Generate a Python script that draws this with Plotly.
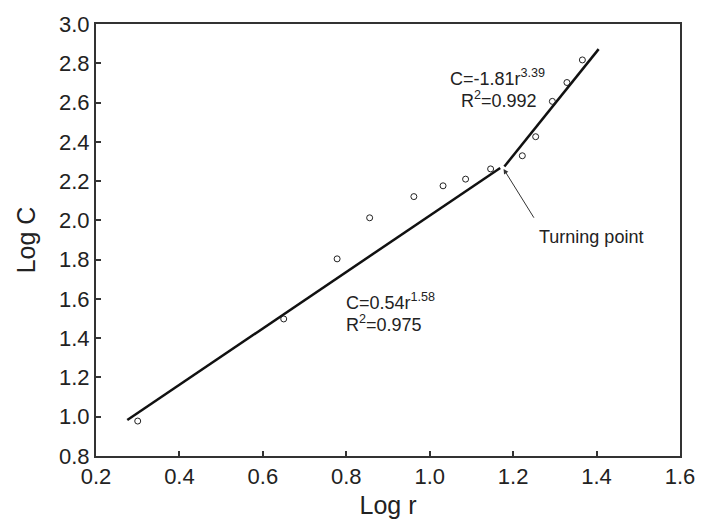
import plotly.graph_objects as go

# Observed data (log r, log C)
log_r = [0.300, 0.650, 0.778, 0.856, 0.962, 1.032, 1.086, 1.146, 1.222, 1.254, 1.294, 1.329, 1.366]
log_c = [0.978, 1.498, 1.804, 2.013, 2.121, 2.176, 2.210, 2.262, 2.329, 2.426, 2.606, 2.702, 2.817]

# Fitted segments
fit1_x = [0.275, 1.169]
fit1_y = [0.983, 2.267]
fit2_x = [1.179, 1.405]
fit2_y = [2.274, 2.872]

x_ticks = [0.2, 0.4, 0.6, 0.8, 1.0, 1.2, 1.4, 1.6]
y_ticks = [0.8, 1.0, 1.2, 1.4, 1.6, 1.8, 2.0, 2.2, 2.4, 2.6, 2.8, 3.0]

FONT = "Liberation Sans, Arial, sans-serif"
INK = "#222222"

fig = go.Figure()
fig.add_trace(go.Scatter(x=fit1_x, y=fit1_y, mode="lines",
                         line=dict(color="#111111", width=2.5), showlegend=False))
fig.add_trace(go.Scatter(x=fit2_x, y=fit2_y, mode="lines",
                         line=dict(color="#111111", width=2.5), showlegend=False))
fig.add_trace(go.Scatter(x=log_r, y=log_c, mode="markers",
                         marker=dict(symbol="circle-open", size=6, color="#222222",
                                     line=dict(width=1)),
                         showlegend=False))

axis_common = dict(showline=True, linecolor="#333333", linewidth=2, mirror=True,
                   ticks="inside", ticklen=5, tickwidth=2, tickcolor="#333333",
                   showgrid=False, zeroline=False,
                   tickfont=dict(family=FONT, size=22, color=INK))

fig.update_xaxes(range=[0.2, 1.6], tickvals=x_ticks,
                 ticktext=[f"{v:.1f}" for v in x_ticks],
                 title=dict(text="Log r", font=dict(family=FONT, size=25, color=INK), standoff=8),
                 **axis_common)
fig.update_yaxes(range=[0.8, 3.0], tickvals=y_ticks,
                 ticktext=[f"{v:.1f}" for v in y_ticks],
                 title=dict(text="Log C", font=dict(family=FONT, size=25, color=INK), standoff=16),
                 **axis_common)

ann_font = dict(family=FONT, size=18, color=INK)
notes = [
    (1.045, 2.726, "C=-1.81r<sup>3.39</sup>"),
    (1.071, 2.618, "R<sup>2</sup>=0.992"),
    (0.795, 1.585, "C=0.54r<sup>1.58</sup>"),
    (0.795, 1.475, "R<sup>2</sup>=0.975"),
    (1.256, 1.913, "Turning point"),
]
for nx, ny, txt in notes:
    fig.add_annotation(x=nx, y=ny, xref="x", yref="y", xanchor="left", yanchor="middle",
                       text=txt, showarrow=False, align="left", font=ann_font)

fig.add_annotation(x=1.177, y=2.262, ax=1.252, ay=2.006, xref="x", yref="y",
                   axref="x", ayref="y", text="", showarrow=True,
                   arrowhead=2, arrowsize=1, arrowwidth=1, arrowcolor="#333333")

fig.update_layout(width=707, height=527, margin=dict(l=96, r=18, t=20, b=70),
                  plot_bgcolor="white", paper_bgcolor="white")

fig.write_html("out.html")
